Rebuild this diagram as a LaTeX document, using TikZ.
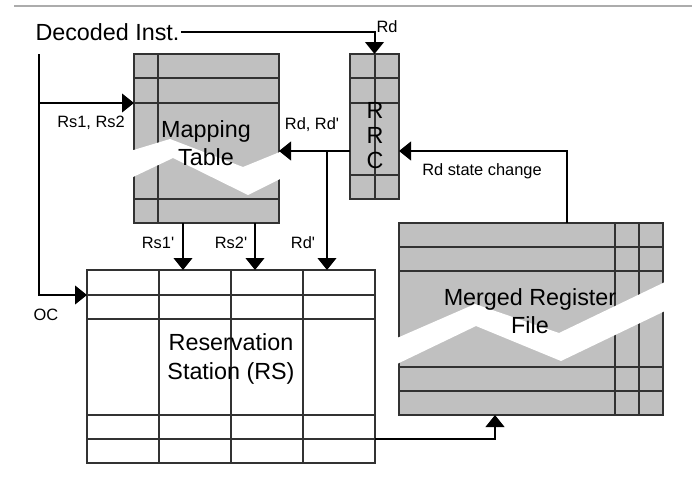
\documentclass[tikz,border=0pt]{standalone}
\usepackage{fontspec}
\setmainfont{Liberation Sans}
\usetikzlibrary{arrows.meta,positioning}

\definecolor{cellgray}{RGB}{192,192,192}
\definecolor{rulegray}{RGB}{172,172,172}
\definecolor{gridline}{RGB}{50,50,50}

\tikzset{every picture/.style={line width=0.75pt},
  tblbox/.style={draw=gridline, line width=1.1pt, inner sep=0pt, outer sep=0pt},
  gridln/.style={draw=gridline, line width=1.1pt},
  wire/.style={line width=1.5pt},
  sig/.style={line width=1.5pt, -{Triangle[length=9pt,width=14pt]}},
  tear/.style={fill=white, draw=none},
  lbl/.style={inner sep=0.75pt, font=\fontsize{12.3}{14}\selectfont},
  big/.style={inner sep=0.75pt, align=center, font=\fontsize{17.5}{21.2}\selectfont}}

\begin{document}
\begin{tikzpicture}[x=0.75pt,y=0.75pt,yscale=-1,xscale=1]
\useasboundingbox (0,0) rectangle (692,483);

%Straight Lines (page rule)
\draw [rulegray, line width=1.5pt] (14,6) -- (692,6) ;

%Shape: Rectangle (mapping table)
\node (map) [tblbox, fill=cellgray, minimum width=108.75pt, minimum height=126.75pt] at (206.5,138.5) {};
\draw [gridln] (158,54) -- (158,223) ;
\draw [gridln] (134,78) -- (279,78) ;
\draw [gridln] (134,103) -- (279,103) ;
\draw [gridln] (134,199) -- (279,199) ;
%Shape: Polygon (torn part)
\fill [tear] (132,150.5) -- (170,139) -- (243,167) -- (281,151.5) -- (281,178.5) -- (248,195) -- (173,158) -- (132,177.5) -- cycle ;

%Shape: Rectangle (RRC)
\node (rrc) [tblbox, fill=cellgray, minimum width=36.75pt, minimum height=108.75pt] at (374.5,126.5) {};
\draw [gridln] (375,54) -- (375,199) ;
\draw [gridln] (350,78) -- (399,78) ;
\draw [gridln] (350,103) -- (399,103) ;
\draw [gridln] (350,175) -- (399,175) ;

%Shape: Rectangle (reservation station)
\node (rs) [tblbox, fill=white, minimum width=216pt, minimum height=144.75pt] at (231,366.5) {};
\foreach \cx in {159,231,303} {
  \draw [gridln] (\cx,270) -- (\cx,463) ;
}
\foreach \ry in {295,319,415,439} {
  \draw [gridln] (87,\ry) -- (375,\ry) ;
}

%Shape: Rectangle (merged register file)
\node (mrf) [tblbox, fill=cellgray, minimum width=198pt, minimum height=144pt] at (531,319) {};
\foreach \cx in {615,639} {
  \draw [gridln] (\cx,223) -- (\cx,415) ;
}
\foreach \ry in {247,271,367,391} {
  \draw [gridln] (399,\ry) -- (663,\ry) ;
}
%Shape: Polygon (torn part)
\fill [tear] (397,338) -- (475,304) -- (559,333) -- (665,282) -- (665,311) -- (561,361) -- (476,326) -- (397,364) -- cycle ;

% Text Node
\node (dec) [big, anchor=west] at (34,32) {Decoded Inst.};

%ports
\coordinate (trunk) at (39,54) ;
\coordinate (tap) at (39,103) ;
\coordinate (mapin) at (134,103) ;
\coordinate (ocin) at (87,295) ;
\coordinate (rrcout) at (350,151) ;
\coordinate (mapback) at (279,151) ;
\coordinate (rdtap) at (327,151) ;
\coordinate (rdin) at (327,270) ;
\coordinate (rs1out) at (183,223) ;
\coordinate (rs1in) at (183,270) ;
\coordinate (rs2out) at (255,223) ;
\coordinate (rs2in) at (255,270) ;
\coordinate (mrfout) at (567,223) ;
\coordinate (rrcin) at (399,151) ;
\coordinate (rsout) at (375,439) ;
\coordinate (mrfin) at (495,415) ;

%Straight Lines
\draw [sig] (dec.east) -| (rrc.north) ;
\draw [sig] (trunk) |- (ocin) ;
\draw [sig] (tap) -- (mapin) ;
\draw [sig] (rrcout) -- (mapback) ;
\draw [sig] (rdtap) -- (rdin) ;
\draw [sig] (rs1out) -- (rs1in) ;
\draw [sig] (rs2out) -- (rs2in) ;
\draw [sig] (mrfout) |- (rrcin) ;
\draw [sig] (rsout) -| (mrfin) ;

% Text Node
\node (maptxt) [big] at (206,143) {Mapping\\Table};
\node (rrctxt) [inner sep=0.75pt, align=center, font=\fontsize{17.5}{18.8}\selectfont] at (375,136) {R\\R\\C};
\node (rstxt) [big] at (231,359) {Reservation\\Station (RS)};
\node (mrftxt) [big] at (530,311) {Merged Register\\File};
% Text Node
\node (lrs12) [lbl] at (91,123) {Rs1, Rs2};
\node (lrdrd) [lbl] at (312,125) {Rd, Rd\textquotesingle};
\node (lrd) [lbl] at (387,27) {Rd};
\node (lstate) [lbl] at (482,171) {Rd state change};
\node (lrs1) [lbl] at (158,243) {Rs1\textquotesingle};
\node (lrs2) [lbl] at (231,243) {Rs2\textquotesingle};
\node (lrdp) [lbl] at (303,243) {Rd\textquotesingle};
\node (loc) [lbl] at (46,315) {OC};

\end{tikzpicture}
\end{document}
